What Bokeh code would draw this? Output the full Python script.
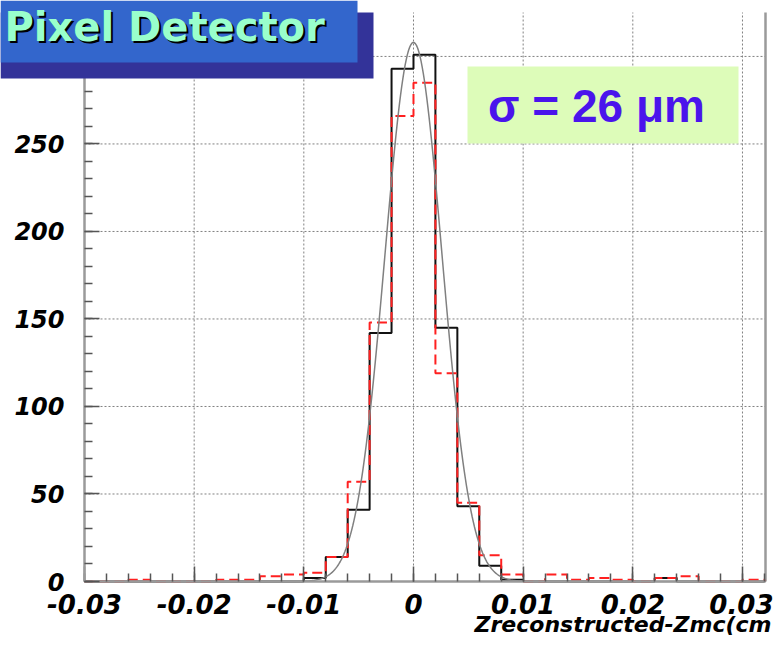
import numpy as np
from bokeh.plotting import figure
from bokeh.models import Range1d, FixedTicker, BoxAnnotation, Label
from bokeh.embed import file_html
from bokeh.resources import INLINE

# ---------------- data ----------------
bin_low = -0.030
bin_width = 0.002
# solid black histogram (31 bins from -0.030 to 0.032)
counts_black = [0, 0, 0, 0, 0, 0, 0, 0, 0, 0,
                2, 14, 41, 142, 293, 301, 145, 43, 9, 1,
                0, 0, 0, 0, 0, 0, 2, 0, 0, 0, 0]
# dashed red histogram
counts_red = [0, 0, 1, 0, 0, 0, 1, 1, 3, 4,
              5, 14, 57, 148, 266, 285, 119, 45, 15, 4,
              0, 4, 1, 2, 1, 0, 2, 3, 0, 0, 1]
# gaussian fit parameters
fit_amp = 308.0
fit_mean = 0.0
fit_sigma = 0.0026

xtick_values = [-0.03, -0.02, -0.01, 0.0, 0.01, 0.02, 0.03]
xtick_labels = ["-0.03", "-0.02", "-0.01", "0", "0.01", "0.02", "0.03"]
ytick_values = [0, 50, 100, 150, 200, 250, 300]
ytick_labels = ["0", "50", "100", "150", "200", "250", "300"]

title_text = "Pixel Detector"
sigma_text = "\u03c3 = 26 \u03bcm"
xaxis_title = "Zreconstructed-Zmc(cm"

# ---------------- geometry ----------------
AX_L, AX_R = -0.030, 0.0321     # drawn axes box, data units
AX_B, AX_T = 0.0, 325.1
W, H = 773, 638
KX = 681.0 / (AX_R - AX_L)      # px per x unit
KY = 569.0 / (AX_T - AX_B)      # px per y unit
PX0, PY0 = 84.0, 581.0          # canvas position of (AX_L, 0)

XMIN = AX_L - PX0 / KX
XMAX = AX_L + (W - PX0) / KX
YMIN = -(H - PY0) / KY
YMAX = PY0 / KY


def dx(px):
    return AX_L + (px - PX0) / KX


def dy(py):
    return (PY0 - py) / KY


p = figure(width=W, height=H, x_range=Range1d(XMIN, XMAX), y_range=Range1d(YMIN, YMAX),
           output_backend="svg", toolbar_location=None, title=None,
           min_border_left=0, min_border_right=0, min_border_top=0, min_border_bottom=0)
p.background_fill_color = "white"
p.border_fill_color = "white"
p.outline_line_color = None
p.grid.visible = False

# dotted grid lines at the major ticks, limited to the axes box
p.segment(x0=xtick_values, y0=AX_B, x1=xtick_values, y1=AX_T,
          line_color="#808080", line_width=1, line_dash="2 2")
p.segment(x0=AX_L, y0=ytick_values, x1=AX_R, y1=ytick_values,
          line_color="#808080", line_width=1, line_dash="2 2")
# right frame edge
p.segment(x0=[AX_R], y0=[AX_B], x1=[AX_R], y1=[AX_T], line_color="#9a9a9a", line_width=2.5)

# axes at fixed locations
n_bins = len(counts_black)
x_minor = list(np.round(bin_low + bin_width * np.arange(n_bins + 1), 4))
y_minor = list(range(0, 330, 10))
p.xaxis.fixed_location = 0.0
p.yaxis.fixed_location = AX_L
p.xaxis.bounds = (AX_L, AX_R)
p.yaxis.bounds = (AX_B, AX_T)
p.xaxis.ticker = FixedTicker(ticks=xtick_values, minor_ticks=x_minor)
p.yaxis.ticker = FixedTicker(ticks=ytick_values, minor_ticks=y_minor)
p.xaxis.major_label_overrides = {v: s for v, s in zip(xtick_values, xtick_labels)}
p.yaxis.major_label_overrides = {v: s for v, s in zip(ytick_values, ytick_labels)}
for ax in (p.xaxis, p.yaxis):
    ax.axis_line_color = "#9a9a9a"
    ax.axis_line_width = 2.5
    ax.major_tick_line_color = "#555555"
    ax.minor_tick_line_color = "#555555"
    ax.major_tick_line_width = 1.5
    ax.minor_tick_line_width = 1.5
    ax.major_tick_in = 15
    ax.major_tick_out = 0
    ax.minor_tick_in = 8
    ax.minor_tick_out = 0
    ax.major_label_text_font = "DejaVu Sans"
    ax.major_label_text_font_style = "bold italic"
    ax.major_label_text_color = "black"
p.xaxis.major_label_text_font_size = "26px"
p.yaxis.major_label_text_font_size = "24px"
p.xaxis.major_label_standoff = 12
p.yaxis.major_label_standoff = 20

# histograms as step outlines
edges = bin_low + bin_width * np.arange(n_bins + 1)
xs = np.repeat(edges, 2)
ys_black = np.concatenate([[0], np.repeat(counts_black, 2), [0]])
ys_red = np.concatenate([[0], np.repeat(counts_red, 2), [0]])
p.line(xs, ys_black, line_color="#111111", line_width=2)
p.line(xs, ys_red, line_color="#ff2020", line_width=2, line_dash="10 5")

# gaussian fit
xf = np.linspace(AX_L, AX_R, 600)
yf = fit_amp * np.exp(-0.5 * ((xf - fit_mean) / fit_sigma) ** 2)
p.line(xf, yf, line_color="#808080", line_width=1.5)

# sigma box
p.add_layout(BoxAnnotation(left=dx(467), right=dx(738), bottom=dy(143), top=dy(66),
                           fill_color="#ddfcb9", fill_alpha=1, line_color=None))
p.add_layout(Label(x=dx(596), y=dy(105), text=sigma_text, text_align="center",
                   text_baseline="middle", text_font="Liberation Sans",
                   text_font_style="bold", text_font_size="46px", text_color="#4a14ec"))

# title box with shadow
p.add_layout(BoxAnnotation(left=XMIN, right=dx(373), bottom=dy(78), top=dy(12),
                           fill_color="#333399", fill_alpha=1, line_color=None))
p.add_layout(BoxAnnotation(left=XMIN, right=dx(357), bottom=dy(62), top=YMAX,
                           fill_color="#3366cc", fill_alpha=1, line_color=None))
p.add_layout(Label(x=dx(6), y=dy(28), text=title_text, text_align="left",
                   text_baseline="middle", text_font="DejaVu Sans",
                   text_font_style="bold", text_font_size="40px", text_color="black"))
p.add_layout(Label(x=dx(4), y=dy(26), text=title_text, text_align="left",
                   text_baseline="middle", text_font="DejaVu Sans",
                   text_font_style="bold", text_font_size="40px", text_color="#99ffcc"))

# x axis title
p.add_layout(Label(x=dx(771), y=dy(624), text=xaxis_title, text_align="right",
                   text_baseline="middle", text_font="DejaVu Sans",
                   text_font_style="bold italic", text_font_size="22px", text_color="black"))

open("out.html", "w").write(file_html(p, INLINE))
